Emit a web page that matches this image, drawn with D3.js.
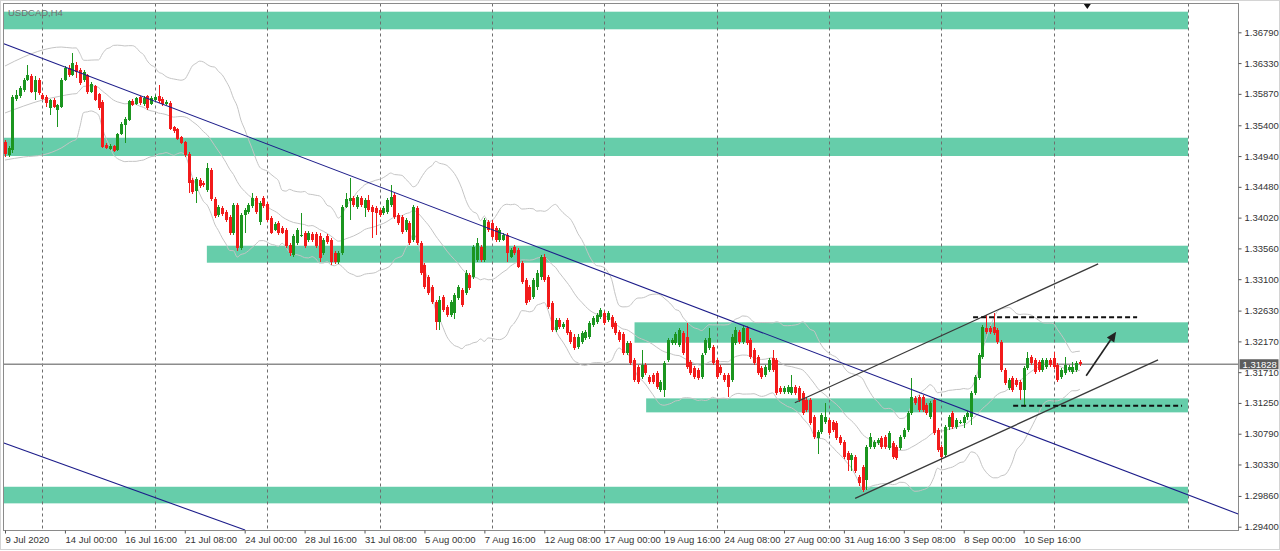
<!DOCTYPE html>
<html><head><meta charset="utf-8">
<script src="https://cdnjs.cloudflare.com/ajax/libs/d3/7.8.5/d3.min.js"></script>
<style>html,body{margin:0;padding:0;background:#fff;overflow:hidden}svg{display:block}</style>
</head><body><svg id="c" width="1280" height="551"></svg>
<script>
// ---------------- DATA ----------------
const symbolTitle = "USDCAD,H4";
const priceTicks = [1.36790,1.36330,1.35870,1.35400,1.34940,1.34480,1.34020,1.33560,1.33100,1.32630,1.32170,1.31710,1.31250,1.30790,1.30330,1.29860,1.29400];
const timeLabels = ["9 Jul 2020","14 Jul 00:00","16 Jul 16:00","21 Jul 08:00","24 Jul 00:00","28 Jul 16:00","31 Jul 08:00","5 Aug 00:00","7 Aug 16:00","12 Aug 08:00","17 Aug 00:00","19 Aug 16:00","24 Aug 08:00","27 Aug 00:00","31 Aug 16:00","3 Sep 08:00","8 Sep 00:00","10 Sep 16:00"];
const timeLabelBars = [0,16,32,48,64,80,96,112,128,144,160,176,192,208,224,240,256,272];
const gridBars = [10,40,70,100,130,160,190,220,250,280,316];
const currentPrice = 1.31828;
const shiftMarkerBar = 289;

const open = [
1.3515,1.3496,1.3503,1.3579,1.3584,1.3593,1.3608,1.3614,1.3590,1.3608,
1.3585,1.3582,1.3566,1.3578,1.3563,1.3567,1.3608,1.3626,1.3615,1.3630,
1.3623,1.3608,1.3615,1.3590,1.3599,1.3587,1.3575,1.3511,1.3505,1.3509,
1.3503,1.3527,1.3541,1.3548,1.3576,1.3572,1.3582,1.3572,1.3584,1.3572,
1.3578,1.3584,1.3579,1.3572,1.3573,1.3538,1.3535,1.3523,1.3515,1.3497,
1.3458,1.3442,1.3458,1.3454,1.3443,1.3473,1.3430,1.3406,1.3416,1.3410,
1.3403,1.3379,1.3421,1.3357,1.3406,1.3410,1.3419,1.3431,1.3395,1.3431,
1.3422,1.3401,1.3384,1.3394,1.3386,1.3384,1.3361,1.3346,1.3364,1.3374,
1.3379,1.3369,1.3378,1.3378,1.3374,1.3349,1.3374,1.3369,1.3349,1.3336,
1.3349,1.3418,1.3427,1.3431,1.3418,1.3431,1.3416,1.3428,1.3418,1.3416,
1.3413,1.3409,1.3410,1.3421,1.3436,1.3406,1.3403,1.3384,1.3394,1.3369,
1.3416,1.3364,1.3331,1.3313,1.3298,1.3276,1.3246,1.3283,1.3268,1.3256,
1.3259,1.3282,1.3294,1.3289,1.3316,1.3313,1.3339,1.3358,1.3339,1.3395,
1.3394,1.3386,1.3369,1.3369,1.3376,1.3343,1.3358,1.3354,1.3334,1.3309,
1.3298,1.3283,1.3298,1.3313,1.3343,1.3313,1.3274,1.3234,1.3249,1.3238,
1.3249,1.3231,1.3224,1.3209,1.3216,1.3222,1.3224,1.3242,1.3246,1.3253,
1.3259,1.3249,1.3253,1.3245,1.3231,1.3228,1.3200,1.3215,1.3189,1.3179,
1.3164,1.3182,1.3164,1.3167,1.3170,1.3144,1.3144,1.3189,1.3215,1.3215,
1.3212,1.3230,1.3224,1.3186,1.3177,1.3174,1.3164,1.3200,1.3207,1.3209,
1.3189,1.3179,1.3167,1.3167,1.3159,1.3215,1.3231,1.3216,1.3237,1.3219,
1.3204,1.3194,1.3177,1.3167,1.3174,1.3192,1.3189,1.3147,1.3141,1.3141,
1.3140,1.3149,1.3147,1.3140,1.3129,1.3129,1.3104,1.3072,1.3081,1.3096,
1.3099,1.3096,1.3095,1.3074,1.3066,1.3050,1.3039,1.3044,1.3014,1.3029,
1.3010,1.3059,1.3059,1.3065,1.3072,1.3074,1.3057,1.3065,1.3059,1.3057,
1.3074,1.3084,1.3110,1.3132,1.3134,1.3134,1.3122,1.3104,1.3129,1.3084,
1.3059,1.3047,1.3089,1.3110,1.3089,1.3095,1.3095,1.3104,1.3104,1.3140,
1.3162,1.3194,1.3237,1.3237,1.3238,1.3234,1.3216,1.3174,1.3147,1.3162,
1.3159,1.3156,1.3144,1.3177,1.3194,1.3189,1.3186,1.3174,1.3179,1.3189,
1.3192,1.3182,1.3164,1.3170,1.3174,1.3171,1.3174,1.3186];
const high = [
1.3518,1.3509,1.3585,1.3593,1.3599,1.3611,1.3630,1.3617,1.3614,1.3611,
1.3588,1.3585,1.3579,1.3581,1.3572,1.3611,1.3629,1.3630,1.3648,1.3635,
1.3626,1.3623,1.3617,1.3605,1.3600,1.3588,1.3578,1.3514,1.3512,1.3511,
1.3529,1.3545,1.3553,1.3578,1.3579,1.3582,1.3584,1.3584,1.3585,1.3584,
1.3585,1.3600,1.3582,1.3578,1.3576,1.3539,1.3536,1.3524,1.3517,1.3500,
1.3461,1.3463,1.3461,1.3457,1.3484,1.3476,1.3433,1.3421,1.3419,1.3413,
1.3406,1.3424,1.3424,1.3409,1.3416,1.3424,1.3439,1.3434,1.3427,1.3434,
1.3425,1.3404,1.3395,1.3397,1.3389,1.3386,1.3364,1.3377,1.3386,1.3409,
1.3382,1.3382,1.3381,1.3381,1.3379,1.3372,1.3378,1.3372,1.3352,1.3352,
1.3421,1.3439,1.3461,1.3434,1.3436,1.3434,1.3431,1.3436,1.3421,1.3419,
1.3416,1.3419,1.3431,1.3451,1.3439,1.3409,1.3406,1.3401,1.3397,1.3421,
1.3419,1.3367,1.3334,1.3316,1.3301,1.3279,1.3285,1.3286,1.3271,1.3279,
1.3289,1.3301,1.3297,1.3324,1.3319,1.3361,1.3372,1.3361,1.3401,1.3398,
1.3398,1.3389,1.3386,1.3379,1.3379,1.3357,1.3361,1.3357,1.3337,1.3312,
1.3301,1.3312,1.3324,1.3346,1.3348,1.3316,1.3277,1.3252,1.3252,1.3246,
1.3252,1.3234,1.3228,1.3228,1.3233,1.3234,1.3248,1.3255,1.3259,1.3267,
1.3262,1.3262,1.3256,1.3248,1.3234,1.3231,1.3218,1.3218,1.3192,1.3182,
1.3204,1.3185,1.3167,1.3170,1.3173,1.3159,1.3188,1.3222,1.3222,1.3231,
1.3237,1.3233,1.3245,1.3189,1.3180,1.3177,1.3200,1.3222,1.3237,1.3212,
1.3192,1.3182,1.3170,1.3170,1.3228,1.3239,1.3234,1.3240,1.3240,1.3222,
1.3207,1.3197,1.3180,1.3182,1.3192,1.3204,1.3192,1.3150,1.3150,1.3152,
1.3167,1.3152,1.3150,1.3143,1.3132,1.3132,1.3107,1.3084,1.3110,1.3125,
1.3102,1.3099,1.3098,1.3077,1.3069,1.3053,1.3050,1.3047,1.3017,1.3032,
1.3062,1.3080,1.3069,1.3072,1.3075,1.3077,1.3083,1.3068,1.3062,1.3077,
1.3087,1.3113,1.3162,1.3135,1.3137,1.3137,1.3125,1.3128,1.3132,1.3087,
1.3062,1.3092,1.3107,1.3113,1.3102,1.3099,1.3107,1.3113,1.3143,1.3167,
1.3200,1.3241,1.3256,1.3240,1.3259,1.3237,1.3219,1.3177,1.3162,1.3165,
1.3162,1.3159,1.3180,1.3201,1.3197,1.3192,1.3189,1.3192,1.3192,1.3192,
1.3201,1.3185,1.3177,1.3194,1.3182,1.3186,1.3188,1.3189];
const low = [
1.3493,1.3493,1.3499,1.3576,1.3581,1.3590,1.3606,1.3588,1.3578,1.3585,
1.3578,1.3567,1.3555,1.3566,1.3538,1.3566,1.3606,1.3612,1.3614,1.3611,
1.3600,1.3605,1.3587,1.3588,1.3576,1.3563,1.3506,1.3505,1.3503,1.3500,
1.3502,1.3526,1.3514,1.3546,1.3569,1.3570,1.3570,1.3569,1.3563,1.3570,
1.3575,1.3573,1.3569,1.3570,1.3533,1.3529,1.3518,1.3512,1.3493,1.3439,
1.3437,1.3424,1.3446,1.3448,1.3440,1.3427,1.3401,1.3403,1.3404,1.3395,
1.3376,1.3376,1.3352,1.3354,1.3379,1.3407,1.3416,1.3407,1.3391,1.3416,
1.3395,1.3378,1.3382,1.3376,1.3378,1.3357,1.3345,1.3343,1.3361,1.3373,
1.3357,1.3366,1.3366,1.3357,1.3336,1.3346,1.3363,1.3331,1.3333,1.3333,
1.3346,1.3416,1.3398,1.3418,1.3415,1.3418,1.3403,1.3410,1.3372,1.3376,
1.3403,1.3406,1.3407,1.3418,1.3400,1.3391,1.3378,1.3381,1.3361,1.3366,
1.3361,1.3316,1.3295,1.3286,1.3273,1.3234,1.3234,1.3261,1.3253,1.3253,
1.3250,1.3279,1.3268,1.3286,1.3294,1.3310,1.3336,1.3336,1.3336,1.3381,
1.3370,1.3366,1.3366,1.3367,1.3336,1.3342,1.3346,1.3327,1.3303,1.3271,
1.3276,1.3280,1.3294,1.3309,1.3306,1.3265,1.3231,1.3231,1.3235,1.3235,
1.3227,1.3213,1.3204,1.3206,1.3213,1.3219,1.3221,1.3238,1.3243,1.3250,
1.3242,1.3246,1.3235,1.3227,1.3216,1.3197,1.3197,1.3182,1.3156,1.3153,
1.3161,1.3167,1.3153,1.3153,1.3146,1.3141,1.3134,1.3186,1.3212,1.3212,
1.3209,1.3197,1.3176,1.3167,1.3161,1.3159,1.3161,1.3197,1.3204,1.3182,
1.3161,1.3167,1.3156,1.3134,1.3156,1.3212,1.3213,1.3213,1.3212,1.3191,
1.3182,1.3167,1.3161,1.3164,1.3171,1.3171,1.3137,1.3138,1.3138,1.3138,
1.3137,1.3137,1.3126,1.3107,1.3111,1.3092,1.3071,1.3048,1.3078,1.3093,
1.3077,1.3081,1.3069,1.3062,1.3041,1.3023,1.3024,1.3021,1.3001,1.2992,
1.2995,1.3056,1.3056,1.3062,1.3056,1.3056,1.3054,1.3041,1.3039,1.3054,
1.3071,1.3081,1.3107,1.3122,1.3111,1.3111,1.3107,1.3101,1.3077,1.3051,
1.3039,1.3044,1.3084,1.3086,1.3086,1.3093,1.3087,1.3099,1.3092,1.3137,
1.3159,1.3191,1.3228,1.3228,1.3227,1.3213,1.3171,1.3152,1.3144,1.3141,
1.3149,1.3129,1.3119,1.3174,1.3182,1.3168,1.3171,1.3171,1.3176,1.3179,
1.3176,1.3156,1.3161,1.3167,1.3171,1.3168,1.3171,1.3180];
const close = [
1.3497,1.3506,1.3582,1.3585,1.3596,1.3608,1.3615,1.3590,1.3608,1.3588,
1.3579,1.3573,1.3578,1.3567,1.3570,1.3608,1.3626,1.3615,1.3633,1.3620,
1.3603,1.3620,1.3590,1.3602,1.3578,1.3566,1.3508,1.3506,1.3509,1.3502,
1.3527,1.3542,1.3550,1.3576,1.3570,1.3581,1.3573,1.3581,1.3566,1.3581,
1.3582,1.3576,1.3572,1.3575,1.3535,1.3532,1.3520,1.3514,1.3496,1.3454,
1.3440,1.3460,1.3449,1.3451,1.3476,1.3430,1.3404,1.3418,1.3407,1.3398,
1.3379,1.3421,1.3357,1.3406,1.3413,1.3421,1.3431,1.3410,1.3424,1.3419,
1.3398,1.3379,1.3392,1.3379,1.3379,1.3360,1.3349,1.3374,1.3384,1.3376,
1.3360,1.3379,1.3369,1.3360,1.3342,1.3369,1.3366,1.3336,1.3336,1.3349,
1.3418,1.3430,1.3431,1.3421,1.3433,1.3421,1.3428,1.3413,1.3410,1.3409,
1.3406,1.3416,1.3428,1.3433,1.3403,1.3394,1.3381,1.3398,1.3364,1.3418,
1.3364,1.3319,1.3298,1.3289,1.3276,1.3246,1.3279,1.3264,1.3256,1.3276,
1.3286,1.3298,1.3271,1.3319,1.3297,1.3358,1.3364,1.3339,1.3398,1.3384,
1.3373,1.3369,1.3384,1.3376,1.3349,1.3354,1.3349,1.3328,1.3306,1.3274,
1.3279,1.3309,1.3319,1.3343,1.3309,1.3268,1.3234,1.3249,1.3238,1.3243,
1.3230,1.3216,1.3207,1.3224,1.3230,1.3231,1.3245,1.3252,1.3256,1.3264,
1.3245,1.3259,1.3238,1.3230,1.3219,1.3200,1.3215,1.3185,1.3159,1.3156,
1.3182,1.3170,1.3156,1.3156,1.3149,1.3156,1.3185,1.3219,1.3219,1.3228,
1.3234,1.3200,1.3179,1.3170,1.3164,1.3162,1.3197,1.3219,1.3222,1.3185,
1.3164,1.3170,1.3159,1.3149,1.3224,1.3234,1.3216,1.3237,1.3215,1.3194,
1.3185,1.3170,1.3164,1.3179,1.3189,1.3174,1.3140,1.3141,1.3147,1.3149,
1.3149,1.3140,1.3129,1.3110,1.3114,1.3095,1.3074,1.3081,1.3107,1.3104,
1.3080,1.3084,1.3072,1.3065,1.3044,1.3039,1.3047,1.3024,1.3005,1.2995,
1.3059,1.3074,1.3066,1.3069,1.3059,1.3059,1.3080,1.3044,1.3042,1.3074,
1.3084,1.3110,1.3134,1.3125,1.3114,1.3114,1.3110,1.3125,1.3080,1.3054,
1.3044,1.3089,1.3104,1.3089,1.3099,1.3096,1.3104,1.3110,1.3140,1.3164,
1.3197,1.3238,1.3231,1.3231,1.3230,1.3216,1.3174,1.3155,1.3159,1.3144,
1.3152,1.3144,1.3177,1.3192,1.3185,1.3171,1.3174,1.3189,1.3189,1.3182,
1.3179,1.3159,1.3174,1.3182,1.3179,1.3179,1.3185,1.31828];

// Bollinger band values for the first bars (history before the chart start is not shown)
const bbLeadBars   = [0, 5, 10, 15, 18];
const bbLeadUpper  = [1.36286, 1.36421, 1.36525, 1.36570, 1.36555];
const bbLeadMiddle = [1.35584, 1.35688, 1.35778, 1.35838, 1.35868];
const bbLeadLower  = [1.34881, 1.34926, 1.34956, 1.35060, 1.35165];
const bbPeriod = 20, bbDeviation = 2;

// support / resistance zones (bar index from/to, price high/low)
const zoneFromBar = [-2, -2, 53.9, 168.1, 171.2, -2];
const zoneToBar   = [315.9, 315.9, 315.9, 315.9, 315.9, 315.9];
const zoneHigh    = [1.37098, 1.35214, 1.33600, 1.32455, 1.31318, 1.29997];
const zoneLow     = [1.36835, 1.34941, 1.33346, 1.32150, 1.31109, 1.29749];

// trend lines: [bar1, price1, bar2, price2]
const blueTrendLines = [[-0.3, 1.36620, 329.3, 1.29590], [-0.3, 1.30650, 64.1, 1.29350]];
const channelLines   = [[210.9, 1.31253, 291.9, 1.33328], [227.0, 1.29823, 307.9, 1.31894]];
const dashedLevels   = [[258.5, 1.32530, 302.3, 1.32530], [269.2, 1.31208, 314.3, 1.31208]];
const arrowLine      = [288.7, 1.31656, 296.7, 1.32314];

// ---------------- DRAW ----------------
const svg = d3.select("#c");
const P = {left: 3.5, top: 3.5, right: 1238.5, bottom: 530.5};
const x = d3.scaleLinear().domain([0, 329]).range([5, 5 + 329 * 3.745]);
const y = d3.scaleLinear().domain([1.29400, 1.36790]).range([526.7, 32.3]);
const FONT = "'Liberation Sans', Arial, 'DejaVu Sans', sans-serif";

svg.append("defs").append("clipPath").attr("id", "clip")
  .append("rect").attr("x", P.left).attr("y", P.top)
  .attr("width", P.right - P.left).attr("height", P.bottom - P.top);

// outer window border
svg.append("rect").attr("x", 0.5).attr("y", 0.5).attr("width", 1279).attr("height", 549)
  .attr("fill", "none").attr("stroke", "#d4d4d4");

const g = svg.append("g").attr("clip-path", "url(#clip)");

// zones
g.selectAll("rect.zone").data(zoneHigh).enter().append("rect").attr("class", "zone")
  .attr("x", (d, i) => x(zoneFromBar[i]))
  .attr("width", (d, i) => x(zoneToBar[i]) - x(zoneFromBar[i]))
  .attr("y", (d, i) => y(zoneHigh[i]))
  .attr("height", (d, i) => y(zoneLow[i]) - y(zoneHigh[i]))
  .attr("fill", "#66cdaa");

// vertical grid
g.selectAll("line.grid").data(gridBars).enter().append("line")
  .attr("x1", d => Math.round(x(d)) + 0.5).attr("x2", d => Math.round(x(d)) + 0.5)
  .attr("y1", P.top).attr("y2", P.bottom)
  .attr("stroke", "#6e6e6e").attr("stroke-width", 1).attr("stroke-dasharray", "3,3");

// current price line
g.append("line").attr("x1", P.left).attr("x2", P.right)
  .attr("y1", y(currentPrice)).attr("y2", y(currentPrice))
  .attr("stroke", "#8c8c8c").attr("stroke-width", 1.5);

// Bollinger bands: read lead-in values, then computed from closes
const bbMid = bbLeadBars.map((b, k) => [b, bbLeadMiddle[k]]);
const bbUp  = bbLeadBars.map((b, k) => [b, bbLeadUpper[k]]);
const bbLo  = bbLeadBars.map((b, k) => [b, bbLeadLower[k]]);
for (let i = bbPeriod - 1; i < close.length; i++) {
  const w = close.slice(i - bbPeriod + 1, i + 1);
  const m = d3.mean(w);
  const sd = Math.sqrt(d3.mean(w, v => (v - m) * (v - m)));
  bbMid.push([i, m]); bbUp.push([i, m + bbDeviation * sd]); bbLo.push([i, m - bbDeviation * sd]);
}
const ln = d3.line().x(d => x(d[0])).y(d => y(d[1])).curve(d3.curveMonotoneX);
[bbUp, bbMid, bbLo].forEach(s => {
  g.append("path").attr("d", ln(s)).attr("fill", "none")
    .attr("stroke", "#c4c4c4").attr("stroke-width", 1);
});

// candles
const bars = d3.range(close.length);
const UP = "#1b951f", DN = "#f21b1b";
const cg = g.append("g").attr("shape-rendering", "crispEdges");
cg.selectAll("line.wick").data(bars).enter().append("line")
  .attr("x1", i => Math.round(x(i)) + 0.5).attr("x2", i => Math.round(x(i)) + 0.5)
  .attr("y1", i => y(high[i])).attr("y2", i => y(low[i]))
  .attr("stroke", i => close[i] >= open[i] ? UP : DN).attr("stroke-width", 1);
cg.selectAll("rect.body").data(bars).enter().append("rect")
  .attr("x", i => Math.round(x(i)) - 1)
  .attr("width", 3)
  .attr("y", i => y(Math.max(open[i], close[i])))
  .attr("height", i => Math.max(1, Math.abs(y(open[i]) - y(close[i]))))
  .attr("fill", i => close[i] >= open[i] ? UP : DN);

// blue trend lines
blueTrendLines.forEach(t => {
  g.append("line").attr("x1", x(t[0])).attr("y1", y(t[1])).attr("x2", x(t[2])).attr("y2", y(t[3]))
    .attr("stroke", "#1c1c8a").attr("stroke-width", 1.1);
});
// channel lines
channelLines.forEach(t => {
  g.append("line").attr("x1", x(t[0])).attr("y1", y(t[1])).attr("x2", x(t[2])).attr("y2", y(t[3]))
    .attr("stroke", "#3a3a3a").attr("stroke-width", 1.3);
});
// dashed levels
dashedLevels.forEach(t => {
  g.append("line").attr("x1", x(t[0])).attr("y1", y(t[1])).attr("x2", x(t[2])).attr("y2", y(t[3]))
    .attr("stroke", "#111").attr("stroke-width", 2).attr("stroke-dasharray", "5,3");
});
// arrow
{
  const x1 = x(arrowLine[0]), y1 = y(arrowLine[1]), x2 = x(arrowLine[2]), y2 = y(arrowLine[3]);
  const ang = Math.atan2(y2 - y1, x2 - x1), L = 10, Wd = 4.5;
  const bx = x2 - L * Math.cos(ang), by = y2 - L * Math.sin(ang);
  g.append("line").attr("x1", x1).attr("y1", y1).attr("x2", bx).attr("y2", by)
    .attr("stroke", "#222").attr("stroke-width", 1.6);
  g.append("path").attr("d", `M${x2},${y2}L${bx + Wd * Math.sin(ang)},${by - Wd * Math.cos(ang)}L${bx - Wd * Math.sin(ang)},${by + Wd * Math.cos(ang)}Z`)
    .attr("fill", "#222");
}

// title
g.append("text").attr("x", 8).attr("y", 16).text(symbolTitle)
  .attr("font-family", FONT).attr("font-size", 9.5).attr("fill", "#707070");

// shift marker triangle
{
  const sx = x(shiftMarkerBar);
  svg.append("path").attr("d", `M${sx - 3.5},4L${sx + 3.5},4L${sx},9Z`).attr("fill", "#111");
}

// frame
svg.append("rect").attr("x", P.left).attr("y", P.top).attr("width", P.right - P.left).attr("height", P.bottom - P.top)
  .attr("fill", "none").attr("stroke", "#8a8a8a").attr("stroke-width", 1);

// price axis
const ay = svg.append("g").attr("transform", `translate(${P.right},0)`)
  .call(d3.axisRight(y).tickValues(priceTicks).tickFormat(d3.format(".5f")).tickSize(3).tickPadding(3));
ay.select(".domain").remove();
ay.selectAll("line").attr("stroke", "#555");
ay.selectAll("text").attr("font-family", FONT).attr("font-size", 9.5).attr("fill", "#333");

// time axis
const ax = svg.append("g").attr("transform", `translate(0,${P.bottom})`)
  .call(d3.axisBottom(x).tickValues(timeLabelBars).tickFormat((d, i) => timeLabels[i]).tickSize(3).tickPadding(3));
ax.select(".domain").remove();
ax.selectAll("line").attr("stroke", "#555");
ax.selectAll("text").attr("text-anchor", "start").attr("x", 0)
  .attr("font-family", FONT).attr("font-size", 9.5).attr("fill", "#333");

// current price label (drawn over the neighbouring tick label, as in the terminal)
{
  const cy = y(currentPrice);
  svg.append("rect").attr("x", P.right + 1).attr("y", cy - 5).attr("width", 39).attr("height", 10).attr("fill", "#5c5c5c");
  svg.append("text").attr("x", P.right + 4).attr("y", cy).attr("dy", "0.35em").text(d3.format(".5f")(currentPrice))
    .attr("font-family", FONT).attr("font-size", 9.5).attr("fill", "#fff");
}
</script></body></html>
